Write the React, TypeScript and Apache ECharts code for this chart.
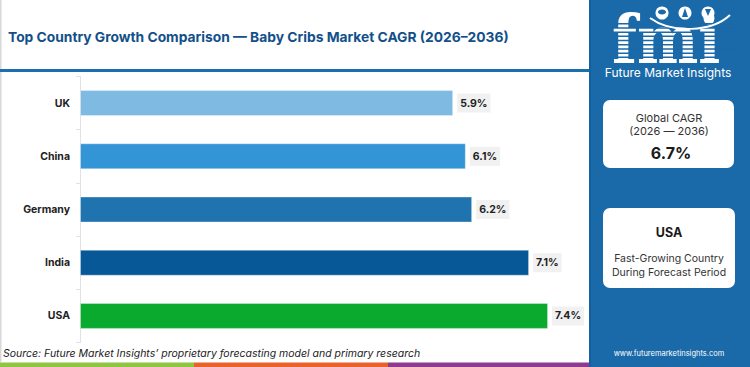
import React, { useEffect, useRef } from "react";
import * as echarts from "echarts";

// Country CAGR values, 2026–2036
const countries = ["UK", "China", "Germany", "India", "USA"];
const cagrValues = [5.9, 6.1, 6.2, 7.1, 7.4];
const barColors = ["#7fbae2", "#3394d6", "#1f74b0", "#075896", "#0aaa2f"];

const titleText = "Top Country Growth Comparison — Baby Cribs Market CAGR (2026–2036)";
const sourceText = "Source: Future Market Insights’ proprietary forecasting model and primary research";
const globalCagr = "6.7%";
const globalPeriod = "(2026 — 2036)";
const leadingCountry = "USA";

const PANEL = "#1a69a8";
const FONT = "Inter, 'Noto Sans', sans-serif";

export default function App() {
  const ref = useRef<HTMLDivElement>(null);

  useEffect(() => {
    if (!ref.current) return;
    const chart = echarts.init(ref.current, undefined, { renderer: "svg" });

    // striped "fmi" wordmark
    const stripes: any[] = [];
    for (let y = 23; y <= 58; y += 4.2) {
      stripes.push({
        type: "rect",
        shape: { x: 610, y, width: 125, height: 1.5 },
        style: { fill: PANEL },
        z: 12,
      });
    }

    chart.setOption({
      animation: false,
      backgroundColor: "#ffffff",
      grid: { left: 80, top: 76.5, width: 506, height: 266, containLabel: false },
      xAxis: {
        type: "value",
        min: 0,
        max: 8,
        show: false,
      },
      yAxis: {
        type: "category",
        inverse: true,
        data: countries,
        axisLine: { show: true, lineStyle: { color: "#e2e2e2", width: 1 } },
        axisTick: { show: true, length: 4, lineStyle: { color: "#e2e2e2" } },
        axisLabel: {
          margin: 10,
          color: "#222222",
          fontFamily: FONT,
          fontWeight: "bold",
          fontSize: 10.5,
        },
      },
      series: [
        {
          type: "bar",
          barWidth: 26,
          data: cagrValues.map((v, i) => ({
            value: v,
            itemStyle: { color: barColors[i], borderColor: "rgba(255,255,255,0.35)", borderWidth: 1 },
          })),
          label: {
            show: true,
            position: "right",
            distance: 4,
            formatter: (p: any) => `${Number(p.value).toFixed(1)}%`,
            color: "#222222",
            fontFamily: FONT,
            fontWeight: "bold",
            fontSize: 10.5,
            backgroundColor: "#f1f1f1",
            padding: [4, 3],
          },
        },
      ],
      graphic: [
        // left frame edge
        { type: "rect", shape: { x: 0, y: 0, width: 1.5, height: 362 }, style: { fill: "#d8d8d8" }, z: 5 },
        // title
        {
          type: "text",
          left: 8,
          top: 30,
          style: {
            text: titleText,
            fill: "#135089",
            font: `bold 13.8px ${FONT}`,
          },
          z: 5,
        },
        // title underline
        { type: "rect", shape: { x: 0, y: 69, width: 592, height: 3 }, style: { fill: "#1a6fae" }, z: 5 },
        // source note
        {
          type: "text",
          left: 3,
          top: 348,
          style: {
            text: sourceText,
            fill: "#222222",
            font: `italic 10.5px ${FONT}`,
          },
          z: 5,
        },
        // bottom colour strip
        { type: "rect", shape: { x: 0, y: 362.5, width: 194, height: 4.5 }, style: { fill: "#8dc641" }, z: 5 },
        { type: "rect", shape: { x: 194, y: 362.5, width: 194, height: 4.5 }, style: { fill: "#e8632c" }, z: 5 },
        { type: "rect", shape: { x: 388, y: 362.5, width: 204, height: 4.5 }, style: { fill: "#8c3b8f" }, z: 5 },
        // side panel
        { type: "rect", shape: { x: 590, y: 0, width: 160, height: 367 }, style: { fill: PANEL }, z: 10 },
        { type: "rect", shape: { x: 589, y: 0, width: 2, height: 367 }, style: { fill: "#12609f" }, z: 10 },
        // wordmark
        {
          type: "text",
          x: 612,
          y: 6.5,
          scaleY: 1.15,
          style: {
            text: "fmi",
            fill: "#ffffff",
            font: "bold 58px 'DejaVu Serif', serif",
            verticalAlign: "top",
          },
          z: 11,
        },
        ...stripes,
        // globes above the wordmark
        { type: "circle", shape: { cx: 662, cy: 13, r: 6.5 }, style: { fill: "#ffffff" }, z: 13 },
        { type: "circle", shape: { cx: 685, cy: 13, r: 6.5 }, style: { fill: "#ffffff" }, z: 13 },
        { type: "circle", shape: { cx: 708, cy: 13, r: 6.5 }, style: { fill: "#ffffff" }, z: 13 },
        { type: "ellipse", shape: { cx: 662, cy: 12, rx: 4, ry: 2.5 }, style: { fill: PANEL }, z: 14 },
        { type: "polygon", shape: { points: [[682, 17], [685, 8], [688, 17]] }, style: { fill: PANEL }, z: 14 },
        { type: "polygon", shape: { points: [[705, 9], [711, 9], [708, 16]] }, style: { fill: PANEL }, z: 14 },
        {
          type: "bezierCurve",
          shape: { x1: 650, y1: 18, x2: 730, y2: 15, cpx1: 672, cpy1: 34, cpx2: 712, cpy2: 32 },
          style: { stroke: "#ffffff", lineWidth: 2, fill: "none" },
          z: 13,
        },
        {
          type: "text",
          x: 668,
          y: 72,
          style: {
            text: "Future Market Insights",
            fill: "#ffffff",
            font: `12px ${FONT}`,
            align: "center",
            verticalAlign: "middle",
          },
          z: 13,
        },
        // global CAGR card
        {
          type: "rect",
          shape: { x: 603, y: 100, width: 131, height: 68, r: 7 },
          style: { fill: "#ffffff" },
          z: 13,
        },
        {
          type: "text",
          x: 669,
          y: 118,
          style: { text: "Global CAGR", fill: "#333333", font: `11px ${FONT}`, align: "center", verticalAlign: "middle" },
          z: 14,
        },
        {
          type: "text",
          x: 669,
          y: 131,
          style: { text: globalPeriod, fill: "#333333", font: `11px ${FONT}`, align: "center", verticalAlign: "middle" },
          z: 14,
        },
        {
          type: "text",
          x: 671,
          y: 153,
          style: { text: globalCagr, fill: "#1a1a1a", font: `bold 16px ${FONT}`, align: "center", verticalAlign: "middle" },
          z: 14,
        },
        // leading-country card
        {
          type: "rect",
          shape: { x: 603, y: 208, width: 132, height: 80, r: 7 },
          style: { fill: "#ffffff" },
          z: 13,
        },
        {
          type: "text",
          x: 669,
          y: 232,
          style: { text: leadingCountry, fill: "#1a1a1a", font: `bold 12.5px ${FONT}`, align: "center", verticalAlign: "middle" },
          z: 14,
        },
        {
          type: "text",
          x: 669,
          y: 258,
          style: { text: "Fast-Growing Country", fill: "#333333", font: `10.5px ${FONT}`, align: "center", verticalAlign: "middle" },
          z: 14,
        },
        {
          type: "text",
          x: 669,
          y: 272,
          style: { text: "During Forecast Period", fill: "#333333", font: `10.5px ${FONT}`, align: "center", verticalAlign: "middle" },
          z: 14,
        },
        {
          type: "text",
          x: 669,
          y: 353,
          style: { text: "www.futuremarketinsights.com", fill: "#ffffff", font: `7.5px ${FONT}`, align: "center", verticalAlign: "middle" },
          z: 14,
        },
      ],
    });

    return () => chart.dispose();
  }, []);

  return (
    <div
      ref={ref}
      style={{ position: "fixed", left: 0, top: 0, width: 750, height: 367 }}
    />
  );
}
